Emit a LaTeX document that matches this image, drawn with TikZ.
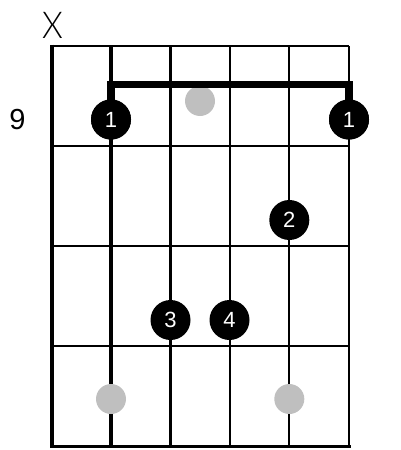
\documentclass[tikz,border=0pt]{standalone}
\usepackage{fontspec}
\setmainfont{Liberation Sans}
\newfontfamily\thinfont{Lato Light}
\begin{document}
\begin{tikzpicture}[x=1pt,y=-1pt,
  fretline/.style={line width=2pt,black},
  stringline/.style={black},
  ghost/.style={circle,fill=black!25,minimum size=30pt,inner sep=0pt},
  finger/.style={circle,fill=black,minimum size=40pt,inner sep=0pt,text=white,font=\fontsize{22}{22}\selectfont},
  barre/.style={line width=7.5pt,black,line join=miter},
  label/.style={inner sep=0pt,text=black}]
\useasboundingbox (0,0) rectangle (400,450);
% frets
\draw[fretline,line width=2.7pt] (52,46) -- (349,46);
\draw[fretline] (52,146) -- (349,146);
\draw[fretline] (52,246) -- (349,246);
\draw[fretline] (52,346) -- (349,346);
\draw[fretline,line width=3pt] (50,446) -- (350.5,446);
% strings
\draw[stringline,line width=4pt] (52,44.6) -- (52,447.5);
\draw[stringline,line width=3.2pt] (111,46) -- (111,446);
\draw[stringline,line width=2.8pt] (170.5,46) -- (170.5,446);
\draw[stringline,line width=2.5pt] (230,46) -- (230,446);
\draw[stringline,line width=2.2pt] (289.3,46) -- (289.3,446);
\draw[stringline,line width=2.2pt] (349,46) -- (349,446);
% ghost dots
\node[ghost] (g1) at (200,101) {};
\node[ghost] (g2) at (111,399) {};
\node[ghost] (g3) at (289.3,399) {};
% barre
\node[finger] (f1a) at (111,119.5) {};
\node[finger] (f1b) at (349,119.5) {};
\coordinate (bl) at (111,84.5);
\coordinate (br) at (349,84.5);
\draw[barre] (f1a.center) -- (bl) -- (br) -- (f1b.center);
% finger dots
\node[finger] (d1a) at (111,119.5) {1};
\node[finger] (d1b) at (349,119.5) {1};
\node[finger] (d2) at (289.3,220) {2};
\node[finger] (d3) at (170.5,320) {3};
\node[finger] (d4) at (229.5,320) {4};
% labels
\node[label,font=\fontsize{29}{29}\selectfont] (fret) at (17.5,119.5) {9};
\node[label,font=\thinfont\fontsize{37}{37}\selectfont,xscale=0.9] (mute) at (52.5,25.5) {X};
\end{tikzpicture}
\end{document}
